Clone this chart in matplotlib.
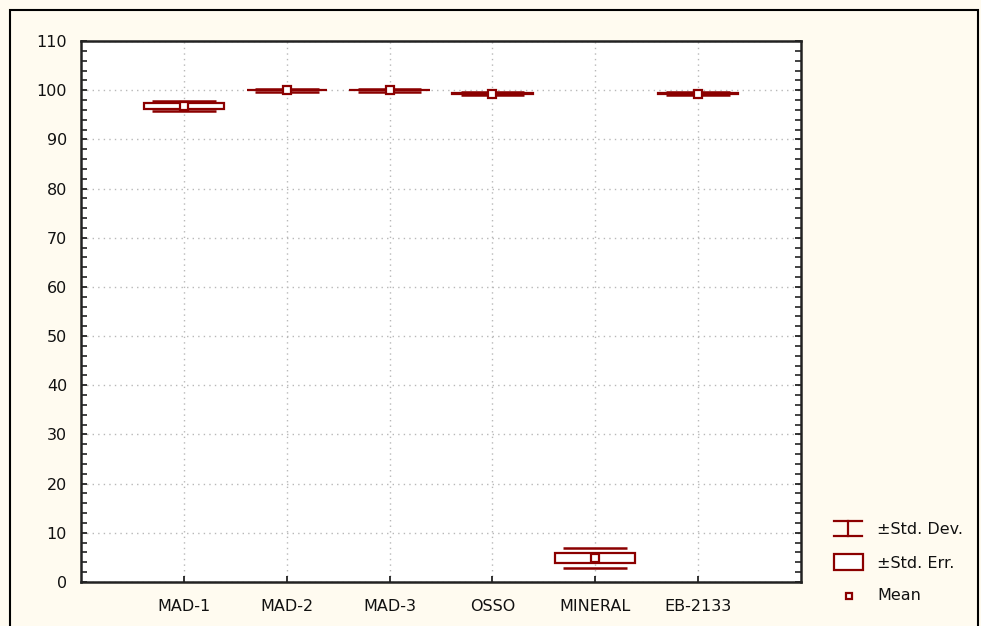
import numpy as np
import matplotlib
matplotlib.use("Agg")
import matplotlib.pyplot as plt
from matplotlib.patches import Rectangle
from matplotlib.lines import Line2D
from matplotlib.ticker import MultipleLocator

# group means with standard error and standard deviation
groups = ['MAD-1', 'MAD-2', 'MAD-3', 'OSSO', 'MINERAL', 'EB-2133']
means = [96.8, 100.0, 100.0, 99.3, 4.9, 99.3]
std_err = [0.55, 0.05, 0.05, 0.05, 0.95, 0.05]
std_dev = [1.0, 0.3, 0.3, 0.3, 2.05, 0.3]

W, H = 981, 626
bg = '#fffbf0'
red = '#8b0000'
plt.rcParams['font.family'] = ['DejaVu Sans']

fig = plt.figure(figsize=(W / 100, H / 100), dpi=100, facecolor=bg)

def px(x, y):
    # pixel coords (top-left origin) -> figure fraction
    return x / W, 1 - y / H

ax = fig.add_axes([81 / W, 1 - 582 / H, 720 / W, 541 / H])
ax.set_facecolor('white')

xs = np.arange(1, len(groups) + 1)
box_hw = 0.39
sd_hw = 0.31
for x, m, e, s in zip(xs, means, std_err, std_dev):
    ax.add_patch(Rectangle((x - box_hw, m - e), 2 * box_hw, 2 * e,
                           facecolor='white', edgecolor=red, lw=1.6, zorder=3))
    ax.hlines([m - s, m + s], x - sd_hw, x + sd_hw, color=red, lw=1.8, zorder=3)
    ax.plot(x, m, 's', ms=6, mfc='white', mec=red, mew=1.6, zorder=4)

ax.set_xlim(0, 7)
ax.set_ylim(0, 110)
ax.set_xticks(xs)
ax.set_xticklabels(groups)
ax.yaxis.set_major_locator(MultipleLocator(10))
ax.yaxis.set_minor_locator(MultipleLocator(2))
ax.tick_params(axis='y', which='both', direction='in', left=True, right=True,
               length=4, width=1.2, color='#222222')
ax.tick_params(axis='x', direction='in', length=4, width=1.2, color='#222222')
ax.tick_params(axis='both', labelsize=11.5, colors='#111111')
ax.tick_params(axis='y', pad=10)
ax.tick_params(axis='x', pad=12)
ax.grid(True, which='major', linestyle=(0, (1, 3)), color='#b8b8b8', lw=1)
for sp in ax.spines.values():
    sp.set_linewidth(1.8)
    sp.set_color('#222222')

# outer frame
fig.patches.append(Rectangle(px(10, 640), (978 - 10) / W, 630 / H,
                             transform=fig.transFigure, fill=False,
                             edgecolor='black', lw=1.5, clip_on=False))

# legend
lx0, lx1, lxc = 834, 862, 848
fig.add_artist(Line2D([px(lx0, 0)[0], px(lx1, 0)[0]], [px(0, 521)[1]] * 2, color=red, lw=1.6))
fig.add_artist(Line2D([px(lx0, 0)[0], px(lx1, 0)[0]], [px(0, 536)[1]] * 2, color=red, lw=1.6))
fig.add_artist(Line2D([px(lxc, 0)[0]] * 2, [px(0, 521)[1], px(0, 536)[1]], color=red, lw=1.6))
fig.patches.append(Rectangle(px(834, 570), 29 / W, 16 / H, transform=fig.transFigure,
                             facecolor='white', edgecolor=red, lw=1.6))
fig.add_artist(Line2D([px(849, 0)[0]], [px(0, 596)[1]], marker='s', ms=5, mfc='white',
                      mec=red, mew=1.6, ls='none'))
for label, y in [('±Std. Dev.', 529), ('±Std. Err.', 563), ('Mean', 596)]:
    fig.text(*px(877, y), label, fontsize=11.5, va='center', ha='left', color='#111111')

fig.savefig('out.png', dpi=100, facecolor=bg)
